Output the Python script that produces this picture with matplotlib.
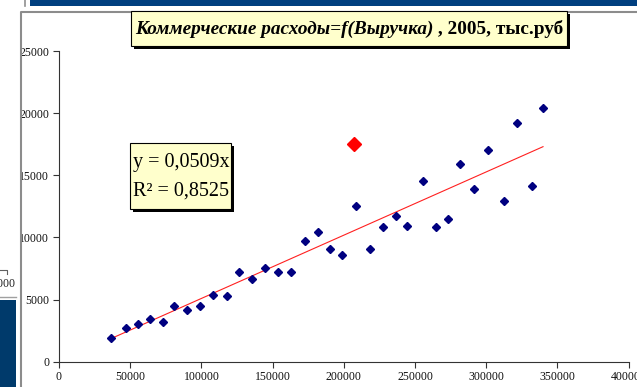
import matplotlib
matplotlib.use("Agg")
import matplotlib.pyplot as plt
from matplotlib.patches import Rectangle
from matplotlib.lines import Line2D

# Выручка и коммерческие расходы по предприятиям, тыс.руб (2005)
revenue = [36500, 47000, 55300, 63700, 73200, 80500, 90100, 99200, 108400, 118200,
           126600, 135500, 144900, 153600, 162900, 172700, 182100, 190300, 198700,
           208800, 218600, 227700, 236600, 244200, 255400, 265000, 273200, 281600,
           291200, 301500, 312300, 321400, 332100, 339900]
expenses = [1900, 2700, 3000, 3400, 3200, 4450, 4150, 4450, 5350, 5250,
            7250, 6650, 7500, 7200, 7250, 9750, 10450, 9050, 8550,
            12550, 9100, 10850, 11750, 10950, 14550, 10850, 11500, 15900,
            13900, 17000, 12950, 19200, 14150, 20400]
outlier_x = [206900]
outlier_y = [17500]
slope = 0.0509
r2 = 0.8525

x_ticks = [0, 50000, 100000, 150000, 200000, 250000, 300000, 350000, 400000]
y_ticks = [0, 5000, 10000, 15000, 20000, 25000]

W, H = 637, 387
SERIF = ["Liberation Serif", "DejaVu Serif"]
plt.rcParams["font.family"] = SERIF

fig = plt.figure(figsize=(W / 100, H / 100), dpi=100)
fig.patch.set_facecolor("white")


def fx(x):
    return x / W


def fy(y):
    return 1 - y / H


def box(x0, y0, x1, y1, shadow=3):
    # прямоугольник со светло-жёлтой заливкой и чёрной тенью
    fig.add_artist(Rectangle((fx(x0 + shadow), fy(y1 + shadow)), fx(x1 - x0), (y1 - y0) / H,
                             transform=fig.transFigure, facecolor="black",
                             edgecolor="none", zorder=5))
    fig.add_artist(Rectangle((fx(x0), fy(y1)), fx(x1 - x0), (y1 - y0) / H,
                             transform=fig.transFigure, facecolor="#FFFFCC",
                             edgecolor="black", linewidth=0.8, zorder=6))


# элементы слайда вокруг диаграммы
fig.add_artist(Rectangle((fx(30), fy(5.5)), 1, 5.5 / H, transform=fig.transFigure,
                         facecolor="#003F7F", edgecolor="none"))
fig.add_artist(Line2D([fx(25), fx(25)], [fy(0), fy(5.5)], transform=fig.transFigure,
                      color="#909090", lw=1.2))
fig.add_artist(Rectangle((0, 0), fx(16), (H - 300) / H, transform=fig.transFigure,
                         facecolor="#003A6B", edgecolor="none"))
fig.add_artist(Line2D([0, fx(16)], [fy(297), fy(297)], transform=fig.transFigure,
                      color="#A0A0A0", lw=1))
fig.add_artist(Line2D([0, fx(7), fx(7)], [fy(270), fy(270), fy(274)],
                      transform=fig.transFigure, color="#606060", lw=0.8))
fig.text(fx(16), fy(284), "0000", ha="right", va="center", fontsize=8.5, color="#222222")

# рамка области диаграммы
fig.add_artist(Line2D([fx(21), fx(21), 1], [0, fy(11.5), fy(11.5)], transform=fig.transFigure,
                      color="#8C8C8C", lw=1.5))

ax = fig.add_axes([fx(59), fy(361.7), fx(628.6 - 59), (361.7 - 51) / H])
ax.set_xlim(0, 400000)
ax.set_ylim(0, 25000)
ax.set_facecolor("none")

ax.plot(revenue, expenses, linestyle="none", marker="D", markersize=4.2,
        color="#000080", zorder=3)
ax.plot(outlier_x, outlier_y, linestyle="none", marker="D", markersize=7,
        color="#FF0000", zorder=3)

x0, x1 = min(revenue), max(revenue)
ax.plot([x0, x1], [slope * x0, slope * x1], color="#FF2020", lw=0.8, zorder=2)

ax.set_xticks(x_ticks)
ax.set_yticks(y_ticks)
ax.set_xticklabels([str(v) for v in x_ticks])
ax.set_yticklabels([str(v) for v in y_ticks])
ax.tick_params(direction="out", length=4, width=0.8, colors="#333333",
               labelsize=8.5, labelcolor="#111111", pad=3)
for side in ("top", "right"):
    ax.spines[side].set_visible(False)
for side in ("left", "bottom"):
    ax.spines[side].set_color("#333333")
    ax.spines[side].set_linewidth(0.8)
for lbl in ax.get_xticklabels():
    lbl.set_clip_on(False)

# заголовок
box(131, 11.5, 567, 46)
fig.canvas.draw()
renderer = fig.canvas.get_renderer()
t1 = fig.text(0, fy(29.5), "Коммерческие расходы=f(Выручка)", fontsize=13.9,
              fontweight="bold", fontstyle="italic", va="center", zorder=7)
t2 = fig.text(0, fy(29.5), " , 2005, тыс.руб", fontsize=13.9, fontweight="bold",
              va="center", zorder=7)
w1 = t1.get_window_extent(renderer).width
w2 = t2.get_window_extent(renderer).width
start = (131 + 567) / 2 - (w1 + w2) / 2
t1.set_x(fx(start))
t2.set_x(fx(start + w1))

# уравнение линии тренда
box(130, 143, 231, 209)
fig.text(fx(133), fy(163), "y = " + f"{slope:.4f}".replace(".", ",") + "x",
         fontsize=14.5, va="center", ha="left", zorder=7)
fig.text(fx(133), fy(191), "R² = " + f"{r2:.4f}".replace(".", ","),
         fontsize=14.5, va="center", ha="left", zorder=7)

fig.savefig("out.png", dpi=100)
